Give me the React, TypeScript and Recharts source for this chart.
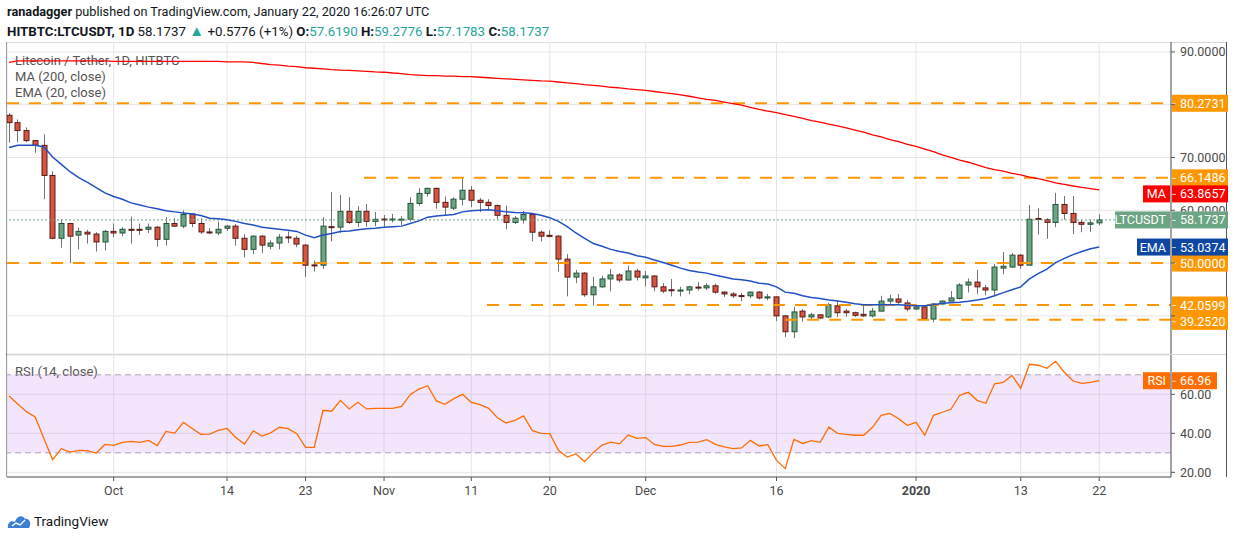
import React from 'react'
import {
  ComposedChart, Bar, Line, XAxis, YAxis, CartesianGrid, ReferenceLine, ReferenceArea,
} from 'recharts'

// LTC/USDT daily, 19 Sep 2019 .. 22 Jan 2020 (index 0..125)
const opens = [
  78.0, 76.6, 75.1, 73.2, 72.3, 66.6, 54.7, 57.5, 55.3, 55.85,
  55.5, 54.0, 56.0, 55.7, 56.4, 56.4, 56.4, 56.8, 54.5, 57.5,
  57.0, 59.3, 57.5, 55.9, 55.7, 56.6, 57.0, 54.7, 52.6, 55.1,
  53.2, 53.8, 54.95, 54.7, 53.4, 49.65, 49.6, 56.9, 56.8, 59.8,
  57.7, 59.8, 57.9, 58.35, 58.25, 58.3, 58.3, 61.3, 63.2, 64.15,
  61.5, 60.4, 62.1, 63.8, 61.9, 61.5, 60.9, 59.05, 57.7, 58.2,
  59.2, 55.85, 55.25, 55.1, 50.75, 47.35, 48.1, 44.0, 45.5, 47.0,
  47.75, 46.8, 48.5, 47.2, 47.55, 45.5, 44.95, 44.7, 44.9, 45.45,
  45.3, 45.7, 44.5, 44.15, 43.85, 43.8, 44.5, 43.4, 43.6, 40.0,
  37.0, 40.9, 39.8, 40.2, 39.8, 41.9, 40.9, 40.6, 40.3, 40.0,
  40.9, 42.8, 43.2, 42.45, 41.3, 41.7, 39.4, 42.25, 42.8, 43.3,
  45.85, 46.4, 45.3, 44.9, 49.05, 49.25, 51.5, 49.6, 58.45, 58.2,
  57.7, 61.1, 59.4, 57.7, 57.35, 57.619,
]
const highs = [
  78.4, 77.2, 75.7, 73.3, 74.4, 67.4, 58.3, 57.6, 56.7, 56.3,
  55.85, 56.3, 57.5, 56.8, 58.8, 57.5, 57.5, 57.0, 58.7, 58.5,
  60.0, 59.5, 58.5, 56.6, 57.85, 57.2, 57.4, 55.5, 55.3, 55.3,
  54.3, 55.5, 56.0, 55.15, 53.6, 50.5, 58.7, 63.45, 62.9, 62.5,
  60.8, 61.2, 59.7, 59.1, 59.3, 58.9, 62.5, 64.2, 64.3, 64.3,
  62.6, 62.45, 66.3, 64.6, 62.3, 62.1, 61.1, 60.9, 58.9, 59.9,
  59.4, 56.2, 56.2, 55.3, 51.7, 48.7, 48.3, 47.4, 47.6, 48.9,
  48.1, 49.5, 48.9, 48.5, 47.75, 46.2, 47.0, 45.5, 45.7, 46.4,
  46.2, 46.1, 44.7, 44.5, 44.35, 44.6, 44.7, 44.15, 43.7, 40.2,
  41.7, 41.3, 40.6, 40.3, 42.45, 42.8, 41.3, 40.8, 42.1, 41.5,
  43.8, 44.0, 44.15, 43.0, 42.25, 41.9, 42.45, 43.0, 44.7, 46.2,
  47.1, 48.7, 45.85, 49.8, 52.1, 51.9, 51.7, 61.0, 60.4, 58.5,
  63.3, 62.7, 62.7, 58.2, 58.2, 59.2776,
]
const lows = [
  72.8, 72.9, 72.9, 70.9, 62.1, 54.5, 52.9, 50.0, 52.6, 53.7,
  52.2, 52.4, 54.9, 55.1, 53.7, 55.3, 55.7, 53.1, 53.3, 56.8,
  56.6, 56.8, 55.5, 55.5, 55.3, 56.1, 53.3, 51.05, 51.7, 51.9,
  52.6, 52.6, 53.8, 53.0, 47.4, 48.4, 48.9, 54.1, 55.7, 57.4,
  56.8, 56.9, 57.0, 56.9, 57.7, 57.2, 57.85, 60.9, 62.6, 60.3,
  59.05, 60.05, 60.9, 60.6, 59.7, 60.05, 58.3, 56.4, 57.4, 57.5,
  54.1, 54.1, 54.9, 48.4, 43.7, 46.2, 43.6, 42.0, 45.3, 44.65,
  46.35, 46.7, 46.7, 45.6, 44.65, 44.3, 43.7, 43.7, 44.1, 44.8,
  44.9, 44.2, 43.6, 43.4, 42.8, 43.4, 43.1, 42.95, 39.0, 36.0,
  35.8, 38.9, 39.3, 39.4, 39.55, 39.8, 39.8, 39.8, 39.8, 39.7,
  40.9, 42.3, 42.25, 40.9, 41.1, 39.25, 38.8, 42.1, 42.8, 43.1,
  44.45, 44.1, 43.9, 43.7, 47.9, 49.05, 48.9, 49.6, 55.4, 54.6,
  56.8, 58.2, 55.5, 55.85, 55.9, 57.1783,
]
const closes = [
  76.6, 75.1, 73.2, 72.3, 66.6, 54.7, 57.5, 55.1, 56.0, 55.5,
  54.0, 56.0, 55.7, 56.4, 56.3, 56.3, 56.8, 54.5, 57.5, 57.0,
  59.2, 57.5, 55.9, 55.8, 56.4, 57.0, 54.7, 52.6, 55.1, 53.4,
  53.8, 54.9, 54.85, 53.6, 49.6, 49.55, 57.0, 56.8, 59.8, 57.7,
  59.8, 57.9, 58.3, 58.25, 58.35, 58.32, 61.3, 63.2, 64.15, 61.5,
  60.6, 62.1, 63.8, 61.9, 61.5, 60.9, 59.05, 57.7, 58.5, 59.2,
  55.85, 55.1, 55.15, 50.75, 47.35, 48.1, 44.0, 45.5, 47.0, 47.75,
  46.8, 48.5, 47.35, 47.55, 45.5, 44.7, 44.85, 44.9, 45.5, 45.3,
  45.7, 44.5, 44.15, 43.8, 43.75, 44.5, 43.4, 43.6, 40.0, 37.0,
  40.75, 39.8, 40.2, 39.6, 42.1, 40.6, 40.6, 40.1, 40.0, 40.9,
  42.8, 43.2, 42.6, 41.3, 41.7, 39.4, 42.25, 42.8, 43.4, 45.85,
  46.4, 45.5, 44.9, 49.25, 49.4, 51.5, 49.6, 58.3, 58.35, 57.7,
  61.1, 59.4, 57.7, 57.35, 57.62, 58.1737,
]
const ma200 = [
  88.0, 88.3, 88.3, 88.3, 88.3, 88.3, 88.3, 88.3, 88.3, 88.3,
  88.3, 88.3, 88.2, 88.2, 88.2, 88.2, 88.2, 88.2, 88.2, 88.2,
  88.2, 88.2, 88.2, 88.2, 88.2, 88.1, 88.1, 88.1, 88.0, 87.8,
  87.6, 87.5, 87.3, 87.2, 87.0, 86.9, 86.8, 86.65, 86.55, 86.5,
  86.4, 86.3, 86.2, 86.15, 86.0, 85.9, 85.7, 85.6, 85.5, 85.5,
  85.4, 85.4, 85.3, 85.3, 85.2, 85.1, 85.0, 84.9, 84.8, 84.7,
  84.6, 84.5, 84.45, 84.3, 84.15, 84.0, 83.8, 83.65, 83.5, 83.3,
  83.2, 83.0, 82.85, 82.7, 82.5, 82.3, 82.1, 81.85, 81.6, 81.3,
  81.0, 80.8, 80.5, 80.2, 79.9, 79.5, 79.1, 78.8, 78.5, 78.1,
  77.8, 77.4, 77.0, 76.7, 76.3, 76.0, 75.6, 75.2, 74.8, 74.3,
  73.9, 73.4, 73.0, 72.5, 72.1, 71.6, 71.1, 70.5, 70.0, 69.5,
  69.1, 68.6, 68.1, 67.7, 67.4, 67.0, 66.7, 66.3, 66.0, 65.6,
  65.2, 64.9, 64.6, 64.35, 64.1, 63.8657,
]
const ema20 = [
  71.9, 72.3, 72.3, 72.3, 72.0, 70.1, 68.7, 67.3, 66.2, 65.3,
  64.3, 63.3, 62.6, 62.1, 61.4, 61.0, 60.6, 60.3, 59.9, 59.7,
  59.5, 59.3, 59.0, 58.5, 58.4, 58.2, 57.9, 57.5, 57.2, 56.8,
  56.6, 56.4, 56.2, 56.0, 55.3, 54.8, 55.3, 55.6, 56.0, 56.1,
  56.3, 56.5, 56.6, 56.8, 56.9, 57.0, 57.5, 58.0, 58.7, 58.9,
  59.05, 59.2, 59.7, 59.9, 60.0, 60.1, 59.9, 59.7, 59.6, 59.55,
  59.4, 59.05, 58.6, 57.9, 56.9, 55.7, 54.7, 53.7, 53.2, 52.6,
  52.2, 51.9, 51.4, 51.1, 50.6, 50.1, 49.6, 49.05, 48.6, 48.3,
  48.1, 47.7, 47.35, 47.0, 46.85, 46.6, 46.2, 46.05, 45.5, 44.5,
  44.3, 43.8, 43.5, 43.3, 43.0, 42.8, 42.6, 42.3, 42.1, 42.1,
  42.1, 42.1, 42.1, 42.0, 41.9, 41.9, 42.1, 42.4, 42.5, 42.6,
  42.75, 43.0, 43.3, 43.8, 44.4, 44.95, 45.5, 47.0, 48.0, 48.85,
  50.1, 50.9, 51.6, 52.2, 52.7, 53.0374,
]
const rsi14 = [
  59.1, 55.0, 51.1, 48.4, 37.4, 26.5, 32.1, 30.4, 31.3, 31.1,
  29.9, 34.3, 33.8, 35.4, 35.9, 35.4, 36.4, 33.7, 41.0, 40.1,
  45.6, 42.5, 39.5, 39.6, 41.5, 42.5, 37.9, 34.5, 41.3, 38.6,
  40.2, 43.1, 42.4, 39.8, 32.8, 32.8, 51.8, 51.3, 56.9, 52.5,
  55.9, 52.5, 52.8, 52.8, 52.8, 53.8, 59.8, 62.7, 64.4, 56.6,
  54.9, 57.8, 60.0, 55.9, 54.7, 52.8, 48.0, 45.3, 46.6, 48.9,
  41.4, 40.0, 39.8, 31.3, 27.8, 29.4, 25.5, 30.2, 34.0, 35.5,
  34.6, 39.1, 37.4, 37.8, 34.3, 33.3, 33.3, 34.0, 35.4, 35.5,
  36.7, 34.3, 33.0, 32.1, 32.5, 36.4, 33.5, 34.2, 26.1, 21.9,
  36.9, 34.8, 36.2, 35.4, 43.1, 40.0, 39.5, 39.0, 39.0, 43.1,
  49.2, 50.2, 47.5, 44.1, 45.6, 39.0, 49.2, 50.8, 52.3, 59.5,
  61.0, 56.9, 55.4, 65.4, 66.1, 69.7, 63.1, 75.4, 74.9, 73.3,
  76.9, 71.3, 66.8, 65.6, 66.1, 66.96,
]

// time axis: index of the day each label sits on
const tickIdx = [12, 25, 34, 43, 53, 62, 73, 88, 104, 116, 125]
const tickLabels = ['Oct', '14', '23', 'Nov', '11', '20', 'Dec', '16', '2020', '13', '22']

// drawn horizontal levels: value, first day index
const levelValues = [80.2731, 66.1486, 50.0, 42.0599, 39.252]
const levelStarts = [-0.23, 40.7, -0.23, 54.8, 89.0]

const priceTicks = [40, 50, 60, 70, 80, 90]
const priceTicksShown = [60, 70, 90]
const rsiTicks = [20, 40, 60]

const lastClose = closes[closes.length - 1]
const lastMa = ma200[ma200.length - 1]
const lastEma = ema20[ema20.length - 1]
const lastRsi = rsi14[rsi14.length - 1]

const rows = opens.map((o, i) => ({
  i, o, h: highs[i], l: lows[i], c: closes[i], ma: ma200[i], ema: ema20[i], rsi: rsi14[i],
}))

const X_DOMAIN: [number, number] = [-0.23, 133.23]
const PRICE_DOMAIN: [number, number] = [32.78, 91.875]
const PRICE_H = 312
const FONT = 'Roboto, "Noto Sans", sans-serif'
const AXIS_TXT = '#4a4a4a'
const UP = '#6BA583', UP_LINE = '#225437', DN = '#D75442', DN_LINE = '#5B1A13'
const ORANGE = '#FF9800'

const Candle = (p: any) => {
  const { x, y, width, height, payload } = p
  if (!payload) return null
  const { o, h, l, c } = payload
  const top = Math.min(y, y + height)
  const span = Math.abs(height)
  const toY = (v: number) => top + ((h - v) / (h - l)) * span
  const cx = Math.round(x + width / 2) + 0.5
  const up = c >= o
  const bTop = toY(Math.max(o, c))
  const bh = Math.max(toY(Math.min(o, c)) - bTop, 1)
  return (
    <g>
      <line x1={cx} x2={cx} y1={top} y2={top + span} stroke="#737375" strokeWidth={1} />
      <rect x={cx - 2.5} y={bTop} width={5} height={bh} fill={up ? UP : DN}
        stroke={up ? UP_LINE : DN_LINE} strokeWidth={1} />
    </g>
  )
}

// coloured label on the price scale (optionally with a tag inside the pane)
const AxisBox = (p: any) => {
  const { viewBox, text, color, tag, tagW = 0, boxW = 56, dy = 0 } = p
  if (!viewBox) return null
  const right = viewBox.x + viewBox.width
  const cy = viewBox.y + dy
  return (
    <g fontFamily={FONT} fontSize={12.5}>
      {tag && <rect x={right - tagW} y={cy - 8.5} width={tagW - 1} height={17} fill={color} />}
      {tag && <text x={right - 5} y={cy + 4.5} fill="#fff" textAnchor="end">{tag}</text>}
      <rect x={right + 1} y={cy - 8.5} width={boxW} height={17} fill={color} />
      <line x1={right + 1} x2={right + 5} y1={cy + 0.5} y2={cy + 0.5} stroke="#fff" strokeOpacity={0.7} />
      <text x={right + 9} y={cy + 4.5} fill="#fff">{text}</text>
    </g>
  )
}

// the 60 label is half hidden behind the last-price box in the snapshot
const pxPerUnit = PRICE_H / (PRICE_DOMAIN[1] - PRICE_DOMAIN[0])

const PriceTick = (p: any) => {
  const { x, y, payload } = p
  const v = payload.value
  if (!priceTicksShown.includes(v)) return <g />
  const boxTop = y + (v - lastClose) * pxPerUnit - 8.5
  const hidden = boxTop < y + 8 && boxTop > y - 8
  const id = 'clipTick' + v
  return (
    <g>
      {hidden && (
        <defs>
          <clipPath id={id}>
            <rect x={x - 2} y={y - 12} width={60} height={boxTop - (y - 12)} />
          </clipPath>
        </defs>
      )}
      <text x={x} y={y} dy="0.36em" fontSize={12.5} fontFamily={FONT} fill={AXIS_TXT}
        clipPath={hidden ? `url(#${id})` : undefined}>
        {v.toFixed(4)}
      </text>
    </g>
  )
}

const RsiTick = (p: any) => {
  const { x, y, payload } = p
  return (
    <text x={x} y={y} dy="0.36em" fontSize={12.5} fontFamily={FONT} fill={AXIS_TXT}>
      {payload.value.toFixed(2)}
    </text>
  )
}

const TimeTick = (p: any) => {
  const { x, y, payload } = p
  const label = tickLabels[tickIdx.indexOf(payload.value)]
  return (
    <text x={x} y={y} dy="0.71em" textAnchor="middle" fontSize={12.5} fontFamily={FONT}
      fill={AXIS_TXT} fontWeight={label === '2020' ? 700 : 400}>
      {label}
    </text>
  )
}

const abs = (s: React.CSSProperties): React.CSSProperties => ({ position: 'absolute', ...s })

export default function App() {
  const teal = { color: '#26a69a' }
  return (
    <div style={{ position: 'relative', width: 1234, height: 540, background: '#fff', fontFamily: FONT, color: '#131722', overflow: 'hidden' }}>
      <style>{'body{margin:0}'}</style>

      <div style={abs({ left: 7, top: 4, fontSize: 12.7, whiteSpace: 'nowrap' })}>
        <b>ranadagger</b> published on TradingView.com, January 22, 2020 16:26:07 UTC
      </div>
      <div style={abs({ left: 7, top: 22, fontSize: 13.3, whiteSpace: 'nowrap' })}>
        <b>HITBTC:LTCUSDT, 1D</b> 58.1737 <span style={{ ...teal, fontSize: 15 }}>▲</span> +0.5776 (+1%){' '}
        <b>O:</b><span style={teal}>57.6190</span> <b>H:</b><span style={teal}>59.2776</span>{' '}
        <b>L:</b><span style={teal}>57.1783</span> <b>C:</b><span style={teal}>58.1737</span>
      </div>

      {/* pane legends sit under the plot so the lines run over them */}
      <div style={abs({ left: 15, top: 53, fontSize: 13, color: '#555', lineHeight: '16px' })}>
        <div>Litecoin / Tether, 1D, HITBTC</div>
        <div>MA (200, close)</div>
        <div>EMA (20, close)</div>
      </div>
      <div style={abs({ left: 15, top: 364, fontSize: 13, color: '#555', lineHeight: '16px' })}>RSI (14, close)</div>

      {/* frame */}
      <div style={abs({ left: 7, top: 42, width: 1220, height: 0, borderTop: '1px solid #d6d6d6' })} />
      <div style={abs({ left: 7, top: 354, width: 1220, height: 0, borderTop: '1px solid #d6d6d6' })} />
      <div style={abs({ left: 6, top: 42, width: 0, height: 435, borderLeft: '1px solid #555' })} />
      <div style={abs({ left: 1226, top: 42, width: 0, height: 435, borderLeft: '1px solid #555' })} />

      <div style={abs({ left: 0, top: 42 })}>
        <ComposedChart width={1234} height={PRICE_H} data={rows} margin={{ top: 0, right: 7, bottom: 0, left: 7 }}>
          <CartesianGrid stroke="#e6e6e6" />
          <XAxis dataKey="i" type="number" domain={X_DOMAIN} ticks={tickIdx} hide allowDataOverflow />
          <YAxis orientation="right" width={56} domain={PRICE_DOMAIN} ticks={priceTicks}
            allowDataOverflow axisLine={{ stroke: '#555' }} tickLine={{ stroke: '#555' }}
            tickSize={4} tickMargin={5} tick={<PriceTick />} />
          {levelValues.map((v, k) => (
            <ReferenceLine key={'lv' + k} segment={[{ x: levelStarts[k], y: v }, { x: X_DOMAIN[1], y: v }]}
              stroke={ORANGE} strokeWidth={2} strokeDasharray="12 10" />
          ))}
          <ReferenceLine y={lastClose} stroke={UP} strokeDasharray="2 2" />
          <Bar dataKey={(d: any) => [d.l, d.h]} barSize={6} shape={(p: any) => <Candle {...p} />}
            isAnimationActive={false} />
          <Line dataKey="ma" stroke="#FF0000" strokeWidth={1.3} dot={false} isAnimationActive={false} />
          <Line dataKey="ema" stroke="#2150c4" strokeWidth={1.5} dot={false} isAnimationActive={false} />
          {levelValues.map((v, k) => (
            <ReferenceLine key={'lb' + k} y={v} stroke="none"
              label={<AxisBox text={v.toFixed(4)} color={ORANGE} dy={k === 4 ? 1.5 : 0} />} />
          ))}
          <ReferenceLine y={lastMa} stroke="none"
            label={<AxisBox text={lastMa.toFixed(4)} color="#FF0000" tag="MA" tagW={28} dy={4} />} />
          <ReferenceLine y={lastClose} stroke="none"
            label={<AxisBox text={lastClose.toFixed(4)} color={UP} tag="LTCUSDT" tagW={56} />} />
          <ReferenceLine y={lastEma} stroke="none"
            label={<AxisBox text={lastEma.toFixed(4)} color="#0d47a1" tag="EMA" tagW={34} />} />
        </ComposedChart>
      </div>

      <div style={abs({ left: 0, top: 355 })}>
        <ComposedChart width={1234} height={150} data={rows} margin={{ top: 0, right: 7, bottom: 0, left: 7 }}>
          <CartesianGrid stroke="#e6e6e6" />
          <ReferenceArea y1={30} y2={70} fill="#AF52EB" fillOpacity={0.15} stroke="none" />
          <ReferenceLine y={70} stroke="#aea4b4" strokeDasharray="6 4" />
          <ReferenceLine y={30} stroke="#aea4b4" strokeDasharray="6 4" />
          <XAxis dataKey="i" type="number" domain={X_DOMAIN} ticks={tickIdx} allowDataOverflow height={28}
            axisLine={{ stroke: '#555' }} tickLine={{ stroke: '#555' }} tickSize={4} tickMargin={5}
            tick={<TimeTick />} />
          <YAxis orientation="right" width={56} domain={[17.6, 80.15]} ticks={rsiTicks} allowDataOverflow
            axisLine={{ stroke: '#555' }} tickLine={{ stroke: '#555' }} tickSize={4} tickMargin={5}
            tick={<RsiTick />} />
          <Line dataKey="rsi" stroke="#FF6D00" strokeWidth={1.3} dot={false} isAnimationActive={false} />
          <ReferenceLine y={lastRsi} stroke="none"
            label={<AxisBox text={lastRsi.toFixed(2)} color="#FF6D00" tag="RSI" tagW={28} boxW={45} />} />
        </ComposedChart>
      </div>

      {/* footer logo */}
      <svg style={abs({ left: 7, top: 513 })} width={24} height={16} viewBox="0 0 24 16">
        <path d="M1 15 C0 10 4 7 8 9 C9 3 16 1 18 6 C22 5 25 10 22 15 Z" fill="#3d7fd1" />
        <path d="M5 13 L9 10 L13 12 L18 7" stroke="#fff" strokeWidth={1.4} fill="none" />
      </svg>
      <div style={abs({ left: 34, top: 513, fontSize: 13.5 })}>TradingView</div>
    </div>
  )
}
